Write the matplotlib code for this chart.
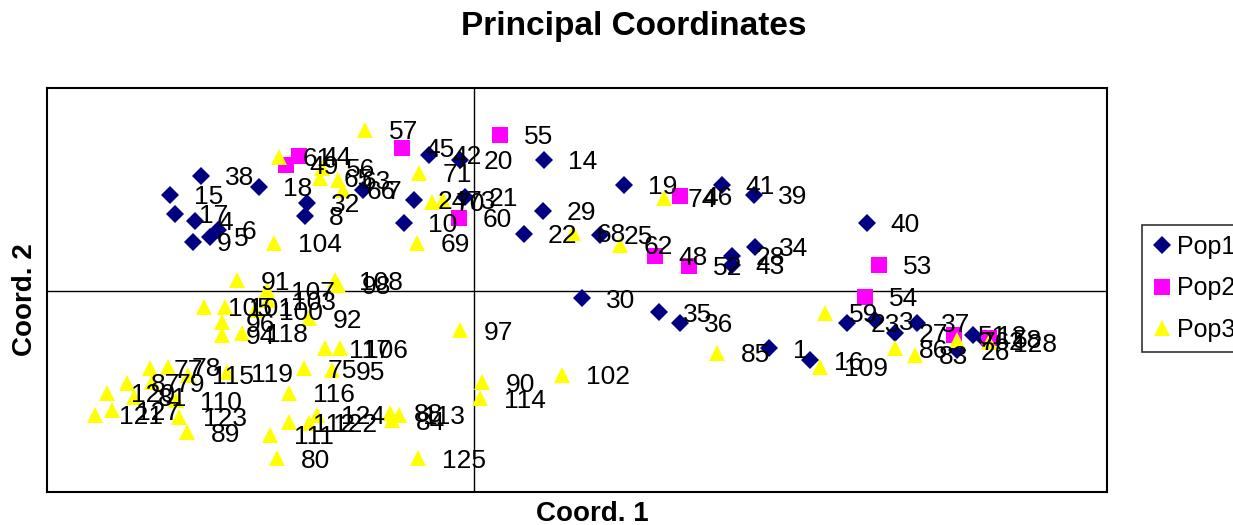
import matplotlib.pyplot as plt

plt.rcParams["font.family"] = ["Liberation Sans", "DejaVu Sans"]

# PCoA scores, three populations (coord 1, coord 2, sample id)
pop1_x = [-2.73, -3.04, -2.99, -2.79, -2.81, -2.64, -2.56, -2.15, -1.67, -1.69,
          -1.11, -0.45, -0.14, -0.60, -0.70, -0.09, 0.70, 1.50, 2.48, 2.80,
          0.69, 0.50, 1.26, 2.58, 2.58, 2.81, 3.93, 1.08, 1.85, 2.06,
          2.95, 3.36, 3.73, 4.01, 4.43, 4.21, 4.83, 4.99, 5.11]
pop1_y = [1.15, 0.96, 0.77, 0.70, 0.49, 0.54, 0.61, 1.04, 0.88, 0.75,
          1.01, 1.36, 1.31, 0.91, 0.68, 0.94, 1.31, 1.06, 1.06, 0.96,
          0.80, 0.57, 0.56, 0.35, 0.26, 0.44, 0.68, -0.07, -0.21, -0.32,
          -0.57, -0.69, -0.32, -0.29, -0.32, -0.42, -0.59, -0.44, -0.49]
pop1_id = [38, 15, 17, 4, 9, 5, 6, 18, 32, 8,
           7, 42, 20, 24, 10, 21, 14, 19, 41, 39,
           29, 22, 25, 28, 43, 34, 40, 30, 35, 36,
           1, 16, 23, 3, 37, 27, 26, 12, 2]

pop2_x = [-1.88, -1.75, -0.72, -0.15, 0.26, 2.06, 1.81, 2.15, 4.05, 3.91, 4.80, 5.15]
pop2_y = [1.26, 1.35, 1.43, 0.73, 1.56, 0.95, 0.35, 0.25, 0.26, -0.06, -0.44, -0.47]
pop2_id = [49, 44, 45, 60, 55, 46, 48, 52, 53, 54, 51, 58]

pop3_x = [-1.95, -1.09, -0.55, -0.42, -0.31, -0.57, -2.00, -2.37, -2.07, -1.39,
          -1.36, -1.52, -1.54, -1.36, -1.31, 0.99, 1.46, 1.90, -0.14, 0.08,
          0.06, 0.88, 2.43, 3.46, 3.51, 4.21, 4.41, 4.83, 5.15, -2.70,
          -2.49, -2.19, -2.06, -1.65, -2.52, -2.52, -2.32, -1.49, -1.34, -1.70,
          -1.42, -1.85, -1.85, -1.65, -1.57, -0.84, -0.82, -0.75, -2.04, -1.97,
          -0.56, -3.24, -3.06, -3.22, -2.86, -2.47, -3.47, -3.67, -3.40, -3.79,
          -3.62, -2.98, -2.95, -2.87]
pop3_y = [1.34, 1.61, 1.18, 0.89, 0.91, 0.48, 0.48, 0.11, 0.01, 0.11,
          0.06, 1.23, 1.13, 1.11, 1.01, 0.58, 0.46, 0.93, -0.39, -0.91,
          -1.07, -0.84, -0.62, -0.76, -0.22, -0.57, -0.64, -0.49, -0.51, -0.16,
          -0.16, -0.19, -0.09, -0.27, -0.31, -0.44, -0.42, -0.57, -0.57, -0.77,
          -0.79, -1.02, -1.31, -1.32, -1.24, -1.22, -1.29, -1.24, -1.44, -1.67,
          -1.67, -0.77, -0.76, -0.91, -0.84, -0.81, -0.92, -1.02, -1.06, -1.24,
          -1.19, -1.09, -1.26, -1.41]
pop3_id = [61, 57, 71, 70, 73, 69, 104, 91, 107, 108,
           98, 56, 65, 63, 66, 68, 62, 74, 97, 90,
           114, 102, 85, 109, 59, 86, 83, 76, 128, 105,
           101, 100, 103, 92, 96, 94, 118, 117, 106, 75,
           95, 116, 112, 122, 124, 88, 84, 113, 111, 80,
           125, 77, 78, 79, 115, 119, 87, 120, 81, 121,
           127, 110, 123, 89]

series = [
    ("Pop1", pop1_x, pop1_y, pop1_id, "D", "#000080", 9),
    ("Pop2", pop2_x, pop2_y, pop2_id, "s", "#FF00FF", 11),
    ("Pop3", pop3_x, pop3_y, pop3_id, "^", "#FFFF00", 12),
]

fig = plt.figure(figsize=(12.33, 5.25), dpi=100)
ax = fig.add_axes([47 / 1233, 33 / 525, 1060 / 1233, 404 / 525])

ax.axhline(0, color="black", lw=1, zorder=1)
ax.axvline(0, color="black", lw=1, zorder=1)

for name, xs, ys, ids, mk, col, ms in series:
    ax.plot(xs, ys, linestyle="none", marker=mk, color=col, markersize=ms,
            markeredgewidth=0, label=name, zorder=3)

# point labels go on top of every marker
for name, xs, ys, ids, mk, col, ms in series:
    for x, y, i in zip(xs, ys, ids):
        ax.annotate(str(i), (x, y), xytext=(17, 0), textcoords="offset points",
                    ha="left", va="center_baseline", fontsize=19, zorder=4)

ax.set_xlim(-4.27, 6.33)
ax.set_ylim(-2.01, 2.03)
ax.set_xticks([])
ax.set_yticks([])
for s in ax.spines.values():
    s.set_linewidth(1.5)
    s.set_color("black")

fig.text(634 / 1233, 1 - 26 / 525, "Principal Coordinates", ha="center",
         va="center", fontsize=24, fontweight="bold")
fig.text(592 / 1233, 1 - 514 / 525, "Coord. 1", ha="center", va="center",
         fontsize=20, fontweight="bold")
fig.text(25 / 1233, 1 - 300 / 525, "Coord. 2", ha="center", va="center",
         fontsize=20, fontweight="bold", rotation=90)

leg = fig.legend(loc="upper left", bbox_to_anchor=(1142 / 1233, 1 - 225 / 525),
                 fontsize=18, frameon=True, fancybox=False, edgecolor="black",
                 handlelength=0.8, handletextpad=0.2, labelspacing=0.7,
                 borderpad=0.4, borderaxespad=0)
leg.get_frame().set_linewidth(1.2)

fig.savefig("out.png", dpi=100)
